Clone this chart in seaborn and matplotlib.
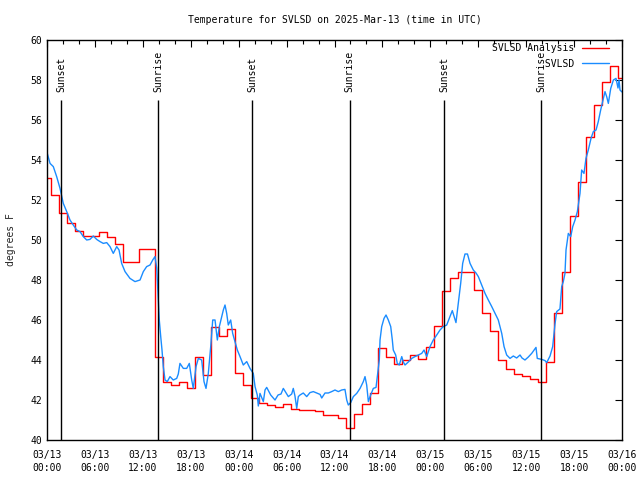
import matplotlib
matplotlib.use("Agg")
import matplotlib.pyplot as plt
import matplotlib.ticker as mticker
import seaborn as sns
from datetime import datetime, timedelta

# ---------------------------------------------------------------------------
# Data (hours since 2025-03-13 00:00 UTC, temperature in deg F)
# ---------------------------------------------------------------------------
START = datetime(2025, 3, 13, 0, 0)

ANALYSIS_HOURS = list(range(73))
ANALYSIS_TEMPS = [
    53.08, 52.25, 51.33, 50.83, 50.45, 50.18, 50.18, 50.38, 50.13, 49.78,
    48.92, 48.92, 49.53, 49.53, 44.15, 42.90, 42.77, 42.92, 42.60, 44.15,
    43.25, 45.67, 45.18, 45.53, 43.33, 42.75, 42.12, 41.85, 41.75, 41.65,
    41.78, 41.55, 41.50, 41.50, 41.45, 41.23, 41.23, 41.08, 40.60, 41.28,
    41.80, 42.33, 44.58, 44.13, 43.80, 44.00, 44.25, 44.05, 44.63, 45.72,
    47.46, 48.12, 48.38, 48.38, 47.48, 46.35, 45.45, 44.00, 43.55, 43.30,
    43.20, 43.05, 42.92, 43.88, 46.33, 48.42, 51.22, 52.88, 55.13, 56.75,
    57.88, 58.72, 58.08,
]

OBS_HOURS = [
    0.00, 0.38, 0.79, 1.21, 1.63, 2.04, 2.47, 2.88, 3.29, 3.72,
    4.13, 4.55, 4.97, 5.38, 5.80, 6.22, 6.64, 7.05, 7.48, 7.89,
    8.30, 8.73, 9.02, 9.35, 9.77, 10.39, 11.02, 11.65, 12.06, 12.48,
    12.90, 13.24, 13.52, 13.74, 13.94, 14.06, 14.24, 14.40, 14.56, 14.78,
    15.06, 15.40, 15.81, 16.24, 16.44, 16.65, 17.07, 17.49, 17.82, 18.12,
    18.32, 18.66, 18.95, 19.37, 19.66, 19.91, 20.20, 20.50, 20.75, 21.04,
    21.33, 21.58, 21.88, 22.08, 22.29, 22.50, 22.70, 23.00, 23.25, 23.54,
    23.83, 24.17, 24.58, 25.01, 25.42, 25.83, 26.05, 26.33, 26.46, 26.67,
    27.09, 27.30, 27.51, 28.01, 28.55, 28.93, 29.30, 29.59, 30.22, 30.64,
    30.84, 31.05, 31.27, 31.47, 31.68, 32.09, 32.52, 32.93, 33.35, 33.77,
    34.19, 34.40, 34.81, 35.23, 35.65, 36.06, 36.48, 36.90, 37.31, 37.53,
    37.73, 38.03, 38.36, 38.78, 39.20, 39.61, 39.82, 40.03, 40.24, 40.45,
    40.86, 41.20, 41.36, 41.61, 41.70, 41.91, 42.20, 42.45, 42.74, 43.04,
    43.24, 43.36, 43.66, 43.86, 44.11, 44.42, 44.62, 44.83, 45.24, 45.67,
    46.08, 46.49, 46.92, 47.21, 47.55, 47.96, 48.37, 48.80, 49.21, 49.62,
    50.05, 50.46, 50.75, 50.96, 51.21, 51.50, 51.80, 52.05, 52.34, 52.65,
    52.97, 53.38, 53.72, 54.01, 54.43, 54.85, 55.26, 55.69, 56.10, 56.51,
    56.94, 57.23, 57.56, 57.98, 58.39, 58.81, 59.23, 59.48, 59.85, 60.27,
    60.69, 61.23, 61.39, 61.95, 62.36, 62.57, 62.99, 63.32, 63.61, 63.82,
    64.23, 64.45, 64.65, 64.86, 64.99, 65.28, 65.58, 65.83, 66.12, 66.41,
    66.74, 66.95, 67.24, 67.49, 67.78, 68.12, 68.41, 68.75, 69.03, 69.33,
    69.58, 69.87, 70.08, 70.29, 70.59, 70.92, 71.25, 71.50, 71.63, 71.75,
    72.00,
]
OBS_TEMPS = [
    54.38, 53.83, 53.67, 53.17, 52.58, 51.83, 51.42, 51.00, 50.75, 50.50,
    50.42, 50.17, 50.00, 50.03, 50.20, 50.03, 49.92, 49.83, 49.87, 49.67,
    49.33, 49.67, 49.50, 48.83, 48.42, 48.08, 47.92, 48.00, 48.42, 48.67,
    48.75, 49.00, 49.17, 48.60, 47.00, 46.00, 45.17, 44.50, 43.67, 43.00,
    42.92, 43.17, 43.00, 43.08, 43.30, 43.83, 43.58, 43.58, 43.83, 43.00,
    42.58, 43.67, 44.08, 44.00, 42.92, 42.58, 43.33, 44.67, 46.00, 46.00,
    45.00, 45.67, 46.17, 46.50, 46.75, 46.33, 45.75, 46.00, 45.33, 44.92,
    44.50, 44.17, 43.75, 43.92, 43.58, 43.33, 42.67, 42.25, 41.70, 42.33,
    41.92, 42.50, 42.63, 42.25, 42.00, 42.25, 42.30, 42.58, 42.17, 42.30,
    42.58, 42.20, 41.58, 42.17, 42.25, 42.35, 42.17, 42.37, 42.42, 42.35,
    42.28, 42.10, 42.35, 42.35, 42.42, 42.50, 42.42, 42.50, 42.53, 42.00,
    41.75, 41.87, 42.17, 42.33, 42.58, 42.92, 43.17, 42.75, 41.92, 42.17,
    42.58, 42.63, 43.17, 44.00, 45.00, 45.67, 46.08, 46.25, 46.00, 45.67,
    45.00, 44.50, 44.25, 43.83, 43.75, 44.17, 43.90, 43.75, 43.90, 44.08,
    44.17, 44.25, 44.33, 44.50, 44.17, 44.67, 45.00, 45.25, 45.50, 45.67,
    45.75, 46.17, 46.47, 46.20, 45.87, 46.83, 47.83, 48.83, 49.30, 49.30,
    48.83, 48.50, 48.35, 48.17, 47.75, 47.33, 47.00, 46.67, 46.33, 46.00,
    45.33, 44.67, 44.25, 44.08, 44.20, 44.10, 44.25, 44.10, 44.00, 44.15,
    44.33, 44.63, 44.08, 44.03, 43.97, 43.87, 44.20, 44.67, 45.80, 46.42,
    46.55, 47.67, 47.92, 48.33, 49.50, 50.33, 50.17, 50.67, 51.00, 51.42,
    52.33, 53.50, 53.33, 54.08, 54.50, 55.08, 55.42, 55.50, 55.92, 56.50,
    56.92, 57.42, 57.17, 56.83, 57.58, 58.00, 58.08, 57.60, 58.00, 57.50,
    57.40,
]

SUN_HOURS = [1.75, 13.90, 25.68, 37.92, 49.70, 61.87]
SUN_LABELS = ["Sunset", "Sunrise", "Sunset", "Sunrise", "Sunset", "Sunrise"]

# ---------------------------------------------------------------------------
# Style
# ---------------------------------------------------------------------------
sns.set_theme(style="white")
plt.rcParams.update({
    "font.family": ["DejaVu Sans Mono"],
    "font.size": 7,
    "axes.edgecolor": "black",
    "axes.linewidth": 1.0,
    "text.color": "black",
    "xtick.color": "black",
    "ytick.color": "black",
})

fig = plt.figure(figsize=(6.4, 4.8), dpi=100)
ax = fig.add_axes([47 / 640, 40 / 480, 575 / 640, 400 / 480])

sns.lineplot(x=ANALYSIS_HOURS, y=ANALYSIS_TEMPS, drawstyle="steps-mid",
             color="#ff0000", linewidth=1.0, label="SVLSD Analysis",
             estimator=None, ax=ax, zorder=2)
sns.lineplot(x=OBS_HOURS, y=OBS_TEMPS, color="#1a8cff", linewidth=1.0,
             label="SVLSD", estimator=None, sort=False, ax=ax, zorder=2.5)

# sunrise / sunset markers
ax.vlines(SUN_HOURS, 40, 57, color="black", linewidth=1.0, zorder=3)
for h, lab in zip(SUN_HOURS, SUN_LABELS):
    ax.text(h, 57.4, lab, rotation=90, ha="center", va="bottom", fontsize=7)

ax.set_xlim(0, 72)
ax.set_ylim(40, 60)
ax.xaxis.set_major_locator(mticker.MultipleLocator(6))
ax.xaxis.set_minor_locator(mticker.MultipleLocator(2))
ax.yaxis.set_major_locator(mticker.MultipleLocator(2))
ax.xaxis.set_major_formatter(mticker.FuncFormatter(
    lambda v, _: (START + timedelta(hours=v)).strftime("%m/%d\n%H:%M")))
ax.tick_params(which="both", direction="in", top=True, right=True,
               width=0.8, labelsize=7)
ax.tick_params(which="major", length=5)
ax.tick_params(which="minor", length=3)
ax.tick_params(axis="x", pad=7)
for t in ax.get_xticklabels():
    t.set_linespacing(1.4)

ax.set_xlabel("")
ax.set_ylabel("degrees F", fontsize=7, labelpad=10)
ax.set_title("Temperature for SVLSD on 2025-Mar-13 (time in UTC)",
             fontsize=7, pad=12)

handles, labels = ax.get_legend_handles_labels()
width = max(len(l) for l in labels)
ax.legend(handles, [l.rjust(width) for l in labels], loc="upper right",
          bbox_to_anchor=(1 - 13 / 575, 1 - 3 / 400),
          frameon=False, markerfirst=False, handlelength=2.8,
          handletextpad=0.8, labelspacing=0.6, borderaxespad=0.0,
          borderpad=0.0, fontsize=7)

for spine in ax.spines.values():
    spine.set_visible(True)
    spine.set_color("black")

fig.savefig("out.png", dpi=100, facecolor="white")
